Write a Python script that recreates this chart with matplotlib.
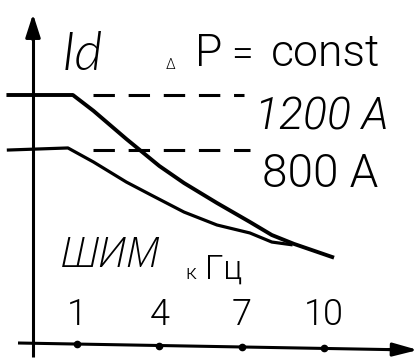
import matplotlib
matplotlib.use("Agg")
import matplotlib.pyplot as plt

# PWM frequency, kHz, and DC current, A
freq_ticks = [1, 4, 7, 10]
tick_labels = ["1", "4", "7", "10"]

upper_f = [-1.5, 0.85, 1.6, 2.8, 4.0, 4.9, 6.1, 7.3, 8.1, 8.9, 10.3]
upper_I = [1200, 1200, 1085, 880, 684, 560, 415, 277, 182, 118, 22]

lower_f = [-1.5, 0.67, 1.6, 2.8, 3.7, 4.9, 6.1, 7.3, 8.1, 8.8]
lower_I = [800, 815, 713, 567, 473, 349, 255, 197, 131, 112]

levels = [1200, 800]
level_labels = ["1200 A", "800 A"]

W, H = 419, 358
fig = plt.figure(figsize=(W / 100, H / 100), dpi=100)
ax = fig.add_axes([0, 0, 1, 1])
ax.set_axis_off()

# linear scales: 27.44 px per kHz, 7.27 A per px
def fx(px):
    return 1 + (px - 77) / 27.44

def iy(py):
    return 1200 - (py - 95) * 7.27

ax.set_xlim(fx(0), fx(W))
ax.set_ylim(iy(H), iy(0))

def P(px, py):
    return (px / W, 1 - py / H)

ink = "black"

def label(px, py, s, size, family=("Roboto",), weight=300, italic=False):
    ax.text(*P(px, py), s, transform=ax.transAxes, ha="left", va="baseline",
            fontsize=size, family=list(family), weight=weight,
            style="italic" if italic else "normal", color=ink)

# axes with arrows
ax.plot([P(33, 357)[0], P(33, 30)[0]], [P(33, 357)[1], P(33, 30)[1]],
        transform=ax.transAxes, color=ink, lw=2.2, solid_capstyle="butt")
ax.annotate("", xy=P(33, 14), xytext=P(33, 40), xycoords="axes fraction",
            arrowprops=dict(arrowstyle="-|>,head_length=1.4,head_width=0.45",
                            color=ink, lw=2.2, shrinkA=0, shrinkB=0))
x0, y0, x1, y1 = 18, 343, 395, 349.7
ax.plot([P(x0, y0)[0], P(x1, y1)[0]], [P(x0, y0)[1], P(x1, y1)[1]],
        transform=ax.transAxes, color=ink, lw=2.2, solid_capstyle="butt")
ax.annotate("", xy=P(418, 350), xytext=P(388, 349.5), xycoords="axes fraction",
            arrowprops=dict(arrowstyle="-|>,head_length=1.5,head_width=0.4",
                            color=ink, lw=2.2, shrinkA=0, shrinkB=0))

# tick dots on the frequency axis and their labels
for f, lab in zip(freq_ticks, tick_labels):
    px = 77 + (f - 1) * 27.44
    py = y0 + (y1 - y0) * (px - x0) / (x1 - x0)
    ax.plot(f, iy(py), "o", color=ink, ms=4.5)
    ax.text(f, P(0, 325)[1], lab, transform=ax.get_xaxis_transform(),
            ha="center", va="baseline", fontsize=26, family=["Roboto"],
            weight=300, color=ink)

# current limit curves
ax.plot(upper_f, upper_I, color=ink, lw=2.8, solid_joinstyle="round")
ax.plot(lower_f, lower_I, color=ink, lw=2.3, solid_joinstyle="round")

# constant power levels
for lvl, x_end in zip(levels, [7.1, 7.3]):
    ax.plot([1.6, x_end], [lvl, lvl], color=ink, lw=2.2, dashes=(7, 4.5))

label(255, 130, level_labels[0], 32, italic=True)
label(262, 187, level_labels[1], 33)

# titles
label(62, 70, "Id", 39, family=("Lato",), italic=True)
label(166, 69, "Δ", 10)
label(195, 66, "P", 32)
label(231, 66, "=", 28)
label(271, 66, "const", 32)

label(60, 267, "ШИМ", 30, family=("Open Sans",), italic=True)
label(185, 279, "к", 15)
label(205, 279, "Гц", 24)

fig.savefig("out.png", dpi=100)
